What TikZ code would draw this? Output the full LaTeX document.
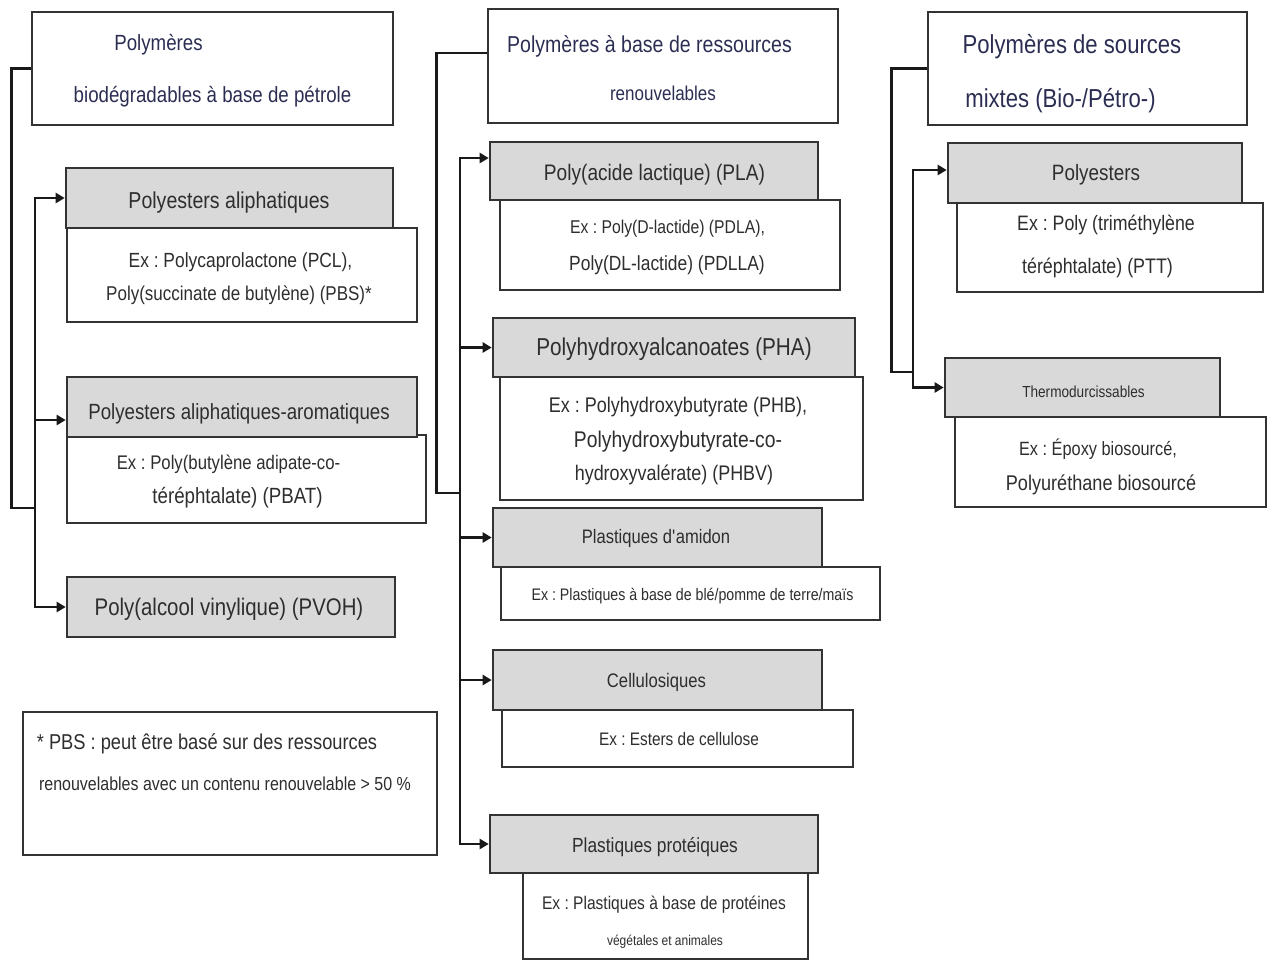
\documentclass[tikz,border=0pt]{standalone}
\usepackage{fontspec}
\setmainfont{Liberation Sans}[FakeStretch=0.85]
\usetikzlibrary{arrows.meta,fit}
\definecolor{gfill}{HTML}{D9D9D9}
\definecolor{bord}{HTML}{333333}
\definecolor{txt}{HTML}{2E2E2E}
\definecolor{navy}{HTML}{2B2E52}
\frenchspacing
\tikzset{
  box/.style={draw=bord, line width=2.6pt, fill=white, inner sep=0pt},
  wbox/.style={box},
  gbox/.style={box, fill=gfill},
  tx/.style={anchor=base, inner sep=0pt, text=txt},
  hd/.style={tx, text=navy},
  sz/.style={font=\fontsize{#1}{#1}\selectfont},
  conn/.style={draw=black!90, line width=2.8pt, line join=miter},
  arr/.style={conn, -{Triangle[length=9pt,width=10pt]}}
}
\begin{document}
\begin{tikzpicture}[x=1pt,y=-1pt]
\useasboundingbox (0,0) rectangle (1269,962);
% ---------- left column ----------
\node[wbox, fit={(32,12) (393,125)}] (L0) {};
\node[wbox, fit={(67,228) (417,322)}] (LAe) {};
\node[gbox, fit={(66,168) (393,228)}] (LA) {};
\node[wbox, fit={(67,435) (426,523)}] (LBe) {};
\node[gbox, fit={(67,377) (417,437)}] (LB) {};
\node[gbox, fit={(67,577) (395,637)}] (LC) {};
\node[wbox, fit={(23,712) (437,855)}] (FN) {};
\node[hd, sz=22] (tL0a) at (158.5,50) {Polymères};
\node[hd, sz=22] (tL0b) at (212.5,102) {biodégradables à base de pétrole};
\node[tx, sz=23] (tLA) at (229,208) {Polyesters aliphatiques};
\node[tx, sz=20.5] (tLAe1) at (240.5,267) {Ex : Polycaprolactone (PCL),};
\node[tx, sz=20] (tLAe2) at (239,300) {Poly(succinate de butylène) (PBS)*};
\node[tx, sz=22] (tLB) at (239,419) {Polyesters aliphatiques-aromatiques};
\node[tx, sz=19.7] (tLBe1) at (228.5,469) {Ex : Poly(butylène adipate-co-};
\node[tx, sz=22] (tLBe2) at (237.5,503) {téréphtalate) (PBAT)};
\node[tx, sz=24] (tLC) at (229,615) {Poly(alcool vinylique) (PVOH)};
\node[tx, sz=21.5] (tFN1) at (207,749) {* PBS : peut être basé sur des ressources};
\node[tx, sz=18.8] (tFN2) at (225,790) {renouvelables avec un contenu renouvelable > 50 \%};
\coordinate (lj) at (35,508);
\draw[conn] (L0.west) -- ++(-19,0) |- (lj);
\draw[arr] (lj) |- (LA.west);
\draw[arr] (lj) |- ([yshift=-13pt]LB.west);
\draw[arr] (lj) |- (LC.west);
% ---------- middle column ----------
\node[wbox, fit={(488,9) (838,123)}] (M0) {};
\node[wbox, fit={(500,200) (840,290)}] (MAe) {};
\node[gbox, fit={(490,142) (818,200)}] (MA) {};
\node[wbox, fit={(500,377) (863,500)}] (MBe) {};
\node[gbox, fit={(493,318) (855,377)}] (MB) {};
\node[wbox, fit={(501,567) (880,620)}] (MCe) {};
\node[gbox, fit={(493,508) (822,567)}] (MC) {};
\node[wbox, fit={(502,710) (853,767)}] (MDe) {};
\node[gbox, fit={(493,650) (822,710)}] (MD) {};
\node[wbox, fit={(523,873) (808,959)}] (MEe) {};
\node[gbox, fit={(490,815) (818,873)}] (ME) {};
\node[hd, sz=23] (tM0a) at (649.5,52) {Polymères à base de ressources};
\node[hd, sz=20] (tM0b) at (663,100) {renouvelables};
\node[tx, sz=22.5] (tMA) at (654.5,180) {Poly(acide lactique) (PLA)};
\node[tx, sz=18.5] (tMAe1) at (667.5,233) {Ex : Poly(D-lactide) (PDLA),};
\node[tx, sz=20.5] (tMAe2) at (667,270) {Poly(DL-lactide) (PDLLA)};
\node[tx, sz=24.4] (tMB) at (674,355) {Polyhydroxyalcanoates (PHA)};
\node[tx, sz=21.2] (tMBe1) at (678,412) {Ex : Polyhydroxybutyrate (PHB),};
\node[tx, sz=22.7] (tMBe2) at (678,447) {Polyhydroxybutyrate-co-};
\node[tx, sz=21.1] (tMBe3) at (674,480) {hydroxyvalérate) (PHBV)};
\node[tx, sz=19.5] (tMC) at (656,543) {Plastiques d\textquotesingle amidon};
\node[tx, sz=16.7] (tMCe) at (692.5,600) {Ex : Plastiques à base de blé/pomme de terre/maïs};
\node[tx, sz=19.6] (tMD) at (656.5,687) {Cellulosiques};
\node[tx, sz=18.1] (tMDe) at (679,745) {Ex : Esters de cellulose};
\node[tx, sz=20.4] (tME) at (655,852) {Plastiques protéiques};
\node[tx, sz=18.3] (tMEe1) at (664,909) {Ex : Plastiques à base de protéines};
\node[tx, sz=14.1] (tMEe2) at (665,945) {végétales et animales};
\coordinate (mj) at (460,493);
\draw[conn] ([yshift=13pt]M0.west) -- ++(-50,0) |- (mj);
\draw[arr] (mj) |- ([yshift=13pt]MA.west);
\draw[arr] (mj) |- (MB.west);
\draw[arr] (mj) |- (MC.west);
\draw[arr] (mj) |- (MD.west);
\draw[arr] (mj) |- (ME.west);
% ---------- right column ----------
\node[wbox, fit={(928,12) (1247,125)}] (R0) {};
\node[wbox, fit={(957,203) (1263,292)}] (RAe) {};
\node[gbox, fit={(948,143) (1242,203)}] (RA) {};
\node[wbox, fit={(955,417) (1266,507)}] (RBe) {};
\node[gbox, fit={(945,358) (1220,417)}] (RB) {};
\node[hd, sz=26] (tR0a) at (1072,53) {Polymères de sources};
\node[hd, sz=26] (tR0b) at (1060.5,107) {mixtes (Bio-/Pétro-)};
\node[tx, sz=22.2] (tRA) at (1096,180) {Polyesters};
\node[tx, sz=20.9] (tRAe1) at (1106,230) {Ex : Poly (triméthylène};
\node[tx, sz=21] (tRAe2) at (1097.5,273) {téréphtalate) (PTT)};
\node[tx, sz=16] (tRB) at (1083.5,397) {Thermodurcissables};
\node[tx, sz=19.2] (tRBe1) at (1098,455) {Ex : Époxy biosourcé,};
\node[tx, sz=21.3] (tRBe2) at (1101,490) {Polyuréthane biosourcé};
\coordinate (rj) at (913,372);
\draw[conn] (R0.west) -- ++(-35,0) |- (rj);
\draw[arr] (rj) |- ([yshift=3pt]RA.west);
\draw[arr] (rj) |- (RB.west);
\end{tikzpicture}
\end{document}
